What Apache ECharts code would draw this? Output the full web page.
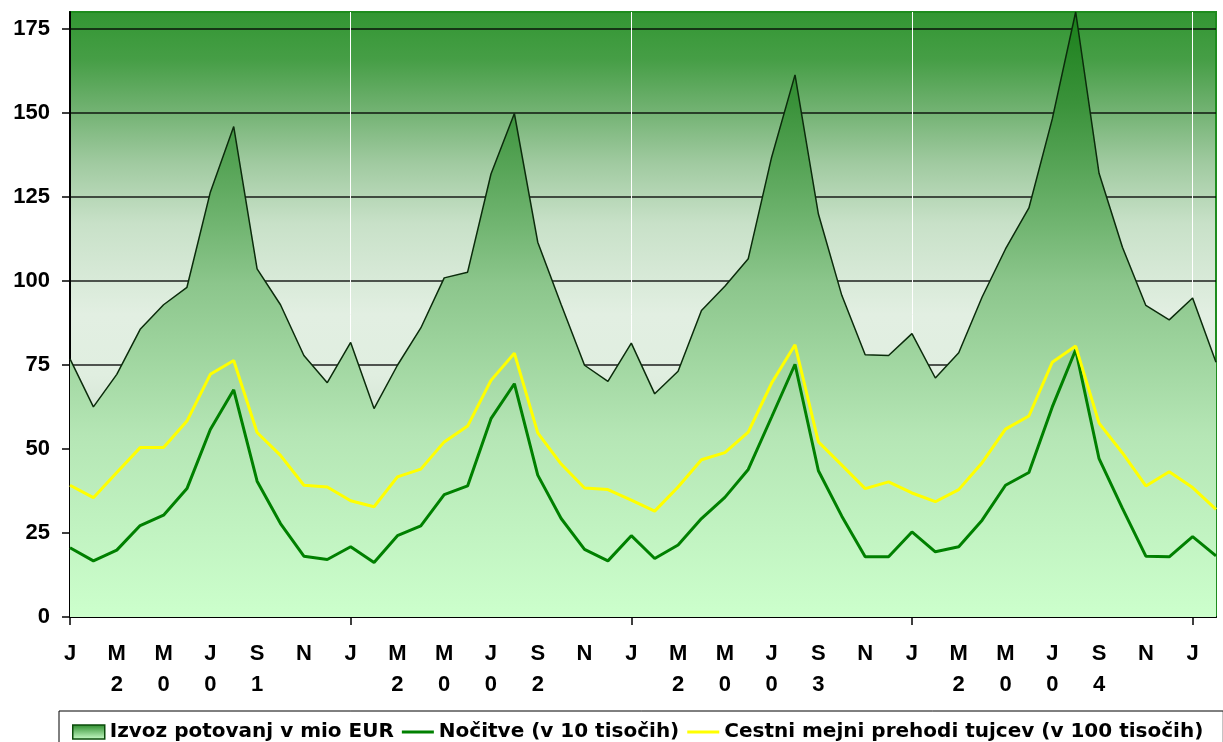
<!DOCTYPE html>
<html>
<head>
<meta charset="utf-8">
<script src="https://cdn.jsdelivr.net/npm/echarts@6/dist/echarts.min.js"></script>
<style>
html,body{margin:0;padding:0;background:#fff;}
#chart{width:1223px;height:742px;}
</style>
</head>
<body>
<div id="chart"></div>
<script>
// ---- data ----
const years = ['2001', '2002', '2003', '2004', '2005'];
const monthNames = ['jan','feb','mar','apr','maj','jun','jul','avg','sep','okt','nov','dec'];
const categories = [];
for (let y = 0; y < 5; y++) {
  for (let m = 0; m < 12; m++) {
    if (y === 4 && m > 1) break;
    categories.push(monthNames[m] + ' ' + years[y]);
  }
}

const xTickLabels = [
  'J','','M\n2','','M\n0','','J\n0','','S\n1','','N','',
  'J','','M\n2','','M\n0','','J\n0','','S\n2','','N','',
  'J','','M\n2','','M\n0','','J\n0','','S\n3','','N','',
  'J','','M\n2','','M\n0','','J\n0','','S\n4','','N','',
  'J',''
];

const seriesNames = [
  'Izvoz potovanj v mio EUR',
  'Nočitve (v 10 tisočih)',
  'Cestni mejni prehodi tujcev (v 100 tisočih)'
];

const izvoz = [
  76.8, 62.5, 72.2, 85.6, 92.9, 98.1, 126.4, 145.9, 103.6, 92.9, 77.8, 69.7,
  81.7, 62.0, 74.9, 86.0, 100.9, 102.6, 131.8, 149.8, 111.5, 93.0, 74.9, 70.1,
  81.5, 66.4, 73.1, 91.2, 98.4, 106.6, 136.8, 161.3, 119.9, 95.7, 78.0, 77.8,
  84.3, 71.1, 78.6, 95.2, 109.5, 121.7, 148.2, 180.0, 132.0, 110.0, 92.7, 88.4,
  94.9, 75.8
];
const nocitve = [
  20.6, 16.7, 19.9, 27.2, 30.3, 38.2, 55.8, 67.6, 40.4, 27.8, 18.1, 17.1,
  20.9, 16.2, 24.2, 27.1, 36.4, 39.0, 59.0, 69.4, 42.2, 29.3, 20.1, 16.7,
  24.2, 17.4, 21.4, 29.3, 35.6, 43.9, 59.5, 75.2, 43.5, 30.0, 17.9, 17.9,
  25.3, 19.4, 20.9, 28.8, 39.2, 43.0, 62.5, 79.5, 47.1, 32.3, 18.1, 17.9,
  23.9, 18.2
];
const cestni = [
  39.2, 35.5, 43.0, 50.4, 50.4, 58.3, 72.2, 76.3, 54.9, 48.1, 39.2, 38.7,
  34.6, 32.8, 41.7, 44.0, 52.1, 56.8, 70.4, 78.5, 54.8, 45.5, 38.4, 37.9,
  34.8, 31.5, 38.7, 46.8, 48.9, 55.0, 69.6, 81.0, 52.1, 45.2, 38.2, 40.2,
  36.9, 34.3, 37.9, 45.9, 55.9, 59.8, 75.8, 80.6, 57.7, 48.8, 39.0, 43.2,
  38.5, 32.0
];

// ---- styles ----
const G = echarts.graphic.LinearGradient;
const bgGrad = new G(0, 0, 0, 1, [
  {offset: 0, color: 'rgb(50,150,50)'},
  {offset: 0.08, color: 'rgb(70,158,70)'},
  {offset: 0.16, color: 'rgb(112,177,112)'},
  {offset: 0.25, color: 'rgb(160,202,160)'},
  {offset: 0.35, color: 'rgb(200,225,200)'},
  {offset: 0.5, color: 'rgb(226,239,226)'},
  {offset: 0.6, color: 'rgb(224,238,224)'},
  {offset: 0.7, color: 'rgb(208,225,208)'},
  {offset: 1, color: 'rgb(200,220,200)'}
]);
const areaGrad = new G(0, 0, 0, 1, [
  {offset: 0, color: '#1a801a'},
  {offset: 0.15, color: '#3a923a'},
  {offset: 0.45, color: '#8cc68c'},
  {offset: 0.7, color: '#b5e6b5'},
  {offset: 1, color: '#ccffcc'}
]);
const legendGrad = new G(0, 0, 0, 1, [
  {offset: 0, color: '#2a8a2a'},
  {offset: 1, color: '#ccffcc'}
]);
const lineIcon = 'path://M0,0 L32,0 L32,3 L0,3 Z';
const axisFont = {fontFamily: 'Liberation Sans', fontWeight: 'bold', fontSize: 22, color: '#000'};

const chart = echarts.init(document.getElementById('chart'), null, {renderer: 'canvas'});
chart.setOption({
  animation: false,
  grid: {
    left: 70, right: 7, top: 12, bottom: 125,
    show: true, backgroundColor: bgGrad, borderColor: '#1e8c1e', borderWidth: 2
  },
  xAxis: {
    type: 'category', boundaryGap: false, data: categories,
    axisLine: {lineStyle: {color: '#000', width: 2}},
    axisTick: {show: true, interval: (i) => i % 12 === 0, length: 8, lineStyle: {color: '#000', width: 1.5}},
    axisLabel: Object.assign({
      interval: 0, formatter: (v, i) => xTickLabels[i], margin: 21, lineHeight: 31
    }, axisFont),
    splitLine: {show: true, interval: (i) => i % 12 === 0, showMinLine: false, lineStyle: {color: '#ffffff', width: 1}}
  },
  yAxis: {
    type: 'value', min: 0, max: 180, interval: 25,
    axisLine: {show: true, lineStyle: {color: '#000', width: 2}},
    axisTick: {show: true, length: 8, lineStyle: {color: '#000', width: 1.5}},
    axisLabel: Object.assign({showMaxLabel: false, margin: 20}, axisFont),
    splitLine: {show: true, showMinLine: false, showMaxLine: false, lineStyle: {color: 'rgba(0,0,0,0.65)', width: 2}}
  },
  legend: {
    left: 59, top: 711,
    itemWidth: 32, itemHeight: 14, itemGap: 8,
    padding: [11, 20, 30, 13],
    borderColor: '#000', borderWidth: 1,
    textStyle: {fontFamily: 'DejaVu Sans', fontWeight: 'bold', fontSize: 20, color: '#000'},
    data: [
      {name: seriesNames[0], icon: 'rect', itemStyle: {color: legendGrad, borderColor: '#0b4b0b', borderWidth: 1.5}},
      {name: seriesNames[1], icon: lineIcon, itemStyle: {color: '#008000'}},
      {name: seriesNames[2], icon: lineIcon, itemStyle: {color: '#ffff00'}}
    ]
  },
  series: [
    {
      name: seriesNames[0], type: 'line', data: izvoz, symbol: 'none',
      lineStyle: {color: '#0b2b0b', width: 1.5},
      areaStyle: {color: areaGrad, opacity: 1},
      itemStyle: {color: '#3a9a3a'}
    },
    {
      name: seriesNames[1], type: 'line', data: nocitve, symbol: 'none',
      lineStyle: {color: '#008000', width: 3},
      itemStyle: {color: '#008000'}
    },
    {
      name: seriesNames[2], type: 'line', data: cestni, symbol: 'none',
      lineStyle: {color: '#ffff00', width: 3},
      itemStyle: {color: '#ffff00'}
    }
  ]
});
</script>
</body>
</html>
